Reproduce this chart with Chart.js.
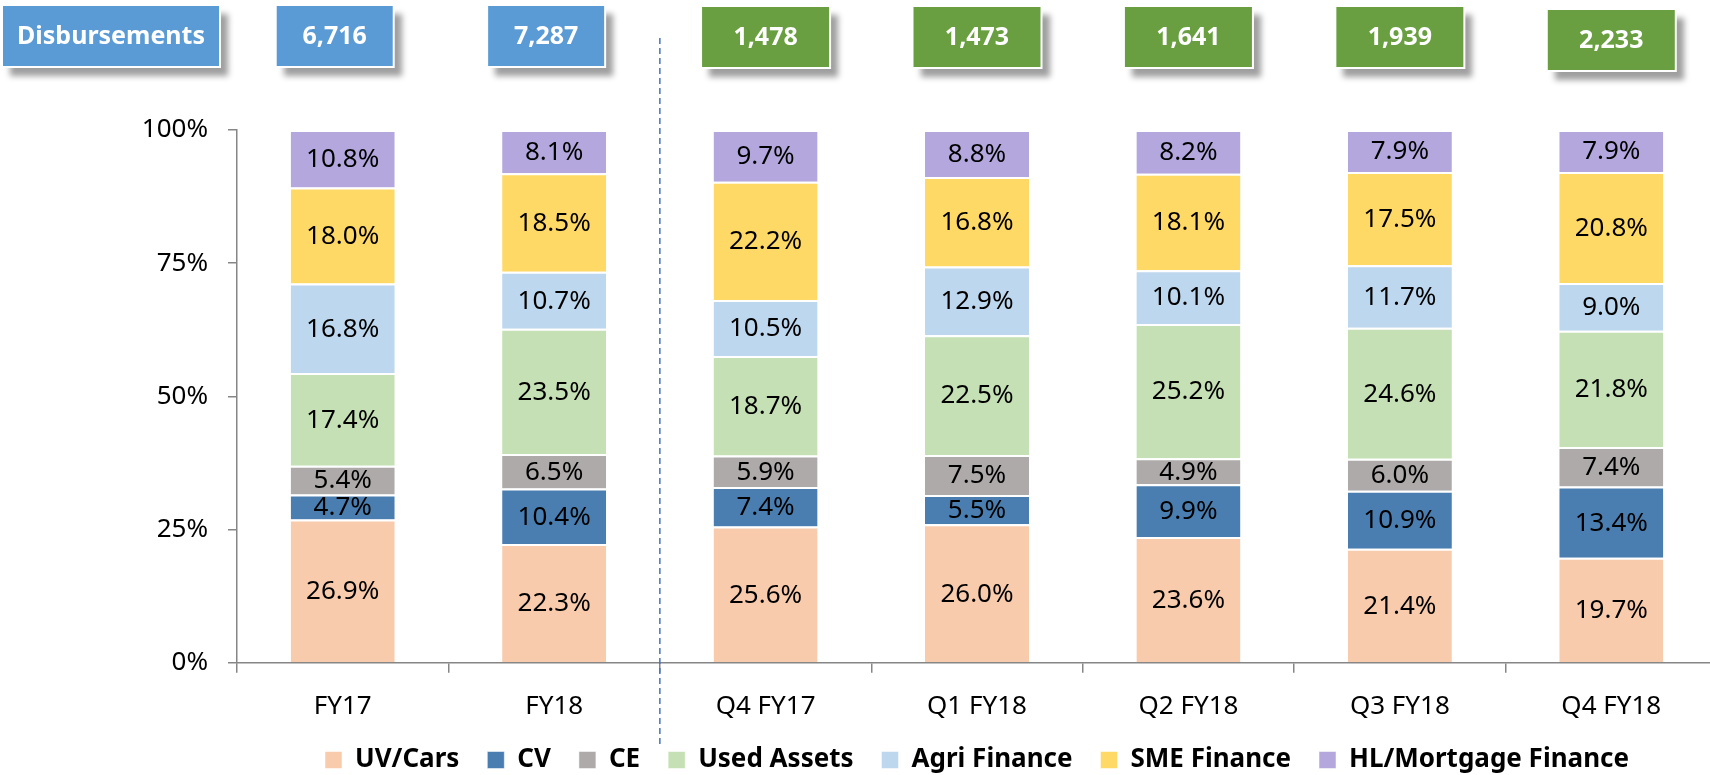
<!DOCTYPE html>
<html>
<head>
<meta charset="utf-8">
<script src="https://cdn.jsdelivr.net/npm/chart.js@4"></script>
<style>
  html, body { margin: 0; padding: 0; background: #fff; overflow: hidden; }
  #wrap { width: 1720px; height: 783px; }
</style>
</head>
<body>
<div id="wrap"><canvas id="chart" width="1720" height="783"></canvas></div>
<script>
const categories = ['FY17', 'FY18', 'Q4 FY17', 'Q1 FY18', 'Q2 FY18', 'Q3 FY18', 'Q4 FY18'];
const disbursements = [6716, 7287, 1478, 1473, 1641, 1939, 2233];
const yTicks = [0, 25, 50, 75, 100];

const uvCars      = [26.9, 22.3, 25.6, 26.0, 23.6, 21.4, 19.7];
const cv          = [4.7, 10.4, 7.4, 5.5, 9.9, 10.9, 13.4];
const ce          = [5.4, 6.5, 5.9, 7.5, 4.9, 6.0, 7.4];
const usedAssets  = [17.4, 23.5, 18.7, 22.5, 25.2, 24.6, 21.8];
const agriFinance = [16.8, 10.7, 10.5, 12.9, 10.1, 11.7, 9.0];
const smeFinance  = [18.0, 18.5, 22.2, 16.8, 18.1, 17.5, 20.8];
const hlMortgage  = [10.8, 8.1, 9.7, 8.8, 8.2, 7.9, 7.9];

const FONT = '"Noto Sans", sans-serif';

const mk = (label, data, color) => ({
  label, data, backgroundColor: color,
  borderColor: '#fff', borderWidth: { top: 2, bottom: 0, left: 0, right: 0 }, borderSkipped: false,
  categoryPercentage: 1, barPercentage: 0.492
});

// value labels inside every segment
const segLabels = {
  id: 'segLabels',
  afterDatasetsDraw(chart) {
    const ctx = chart.ctx;
    ctx.save();
    ctx.font = '26px ' + FONT;
    ctx.fillStyle = '#000';
    ctx.textAlign = 'center';
    ctx.textBaseline = 'middle';
    chart.data.datasets.forEach((ds, i) => {
      chart.getDatasetMeta(i).data.forEach((bar, j) => {
        ctx.fillText(ds.data[j].toFixed(1) + '%', bar.x, (bar.y + bar.base) / 2 + 1);
      });
    });
    ctx.restore();
  }
};

// disbursement boxes on top + dashed separator
const topBoxes = {
  id: 'topBoxes',
  afterDraw(chart) {
    const ctx = chart.ctx;
    const x = chart.scales.x;
    const box = (cx, y, w, h, color, text) => {
      ctx.save();
      ctx.shadowColor = 'rgba(0,0,0,0.38)';
      ctx.shadowBlur = 6;
      ctx.shadowOffsetX = 8;
      ctx.shadowOffsetY = 9;
      ctx.fillStyle = color;
      ctx.fillRect(cx - w / 2, y, w, h);
      ctx.restore();
      ctx.save();
      ctx.strokeStyle = '#fff';
      ctx.lineWidth = 2;
      ctx.strokeRect(cx - w / 2, y, w, h);
      ctx.fillStyle = '#fff';
      ctx.font = 'bold 25px ' + FONT;
      ctx.textAlign = 'center';
      ctx.textBaseline = 'middle';
      ctx.fillText(text, cx, y + h / 2 + 1);
      ctx.restore();
    };
    box(111, 5, 218, 62, '#5B9BD5', 'Disbursements');
    disbursements.forEach((v, i) => {
      const c = x.getPixelForValue(i);
      const txt = v.toLocaleString('en-US');
      if (i < 2) box(c - 8, 5, 118, 62, '#5B9BD5', txt);
      else box(c, i === 6 ? 9 : 6, 129, 62, '#6A9F41', txt);
    });
    const sx = (x.getPixelForValue(1) + x.getPixelForValue(2)) / 2;
    ctx.save();
    ctx.strokeStyle = '#4472C4';
    ctx.lineWidth = 1.5;
    ctx.setLineDash([6, 4]);
    ctx.beginPath();
    ctx.moveTo(sx, 38);
    ctx.lineTo(sx, 748);
    ctx.stroke();
    ctx.restore();
  }
};

new Chart(document.getElementById('chart'), {
  type: 'bar',
  data: {
    labels: categories,
    datasets: [
      mk('UV/Cars', uvCars, '#F8CBAD'),
      mk('CV', cv, '#4A7EB0'),
      mk('CE', ce, '#AEAAAA'),
      mk('Used Assets', usedAssets, '#C5E0B4'),
      mk('Agri Finance', agriFinance, '#BDD7EE'),
      mk('SME Finance', smeFinance, '#FFD966'),
      mk('HL/Mortgage Finance', hlMortgage, '#B4A7DE')
    ]
  },
  options: {
    responsive: false,
    animation: false,
    devicePixelRatio: 1,
    layout: { padding: { top: 130, right: 3, left: 0, bottom: 0 } },
    plugins: {
      tooltip: { enabled: false },
      legend: {
        position: 'bottom',
        fullSize: false,
        labels: {
          boxWidth: 17, boxHeight: 17, padding: 28,
          color: '#000',
          font: { family: FONT, size: 26, weight: 'bold' }
        }
      }
    },
    scales: {
      x: {
        stacked: true,
        afterFit: (s) => { s.height -= 21; },
        grid: { offset: true, drawOnChartArea: false, tickLength: 10, color: '#868686', lineWidth: 1.5 },
        border: { color: '#868686', width: 1.5 },
        ticks: { color: '#000', padding: 18, maxRotation: 0, autoSkip: false, font: { family: FONT, size: 26 } }
      },
      y: {
        stacked: true,
        min: 0, max: 100,
        afterBuildTicks: (s) => { s.ticks = yTicks.map(v => ({ value: v })); },
        afterFit: (s) => { s.width = 237; },
        grid: { drawOnChartArea: false, tickLength: 9, color: '#868686', lineWidth: 1.5 },
        border: { color: '#868686', width: 1.5 },
        ticks: { color: '#000', padding: 20, font: { family: FONT, size: 26 }, callback: (v) => v + '%' }
      }
    }
  },
  plugins: [segLabels, topBoxes]
});
</script>
</body>
</html>
